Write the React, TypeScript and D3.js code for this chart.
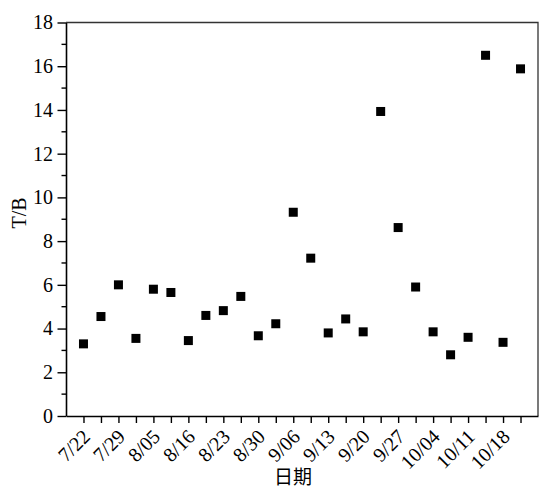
import React, { useRef, useEffect } from 'react';
import * as d3 from 'd3';

// T/B values, one per sampling point (26 points)
const tbValues = [
  3.3, 4.55, 6.0, 3.55, 5.8, 5.65, 3.45, 4.6, 4.82, 5.47, 3.67, 4.22,
  9.32, 7.22, 3.8, 4.44, 3.85, 13.93, 8.62, 5.9, 3.85, 2.8, 3.6, 16.5,
  3.37, 15.88,
];

// date labels, shown on every other tick
const dateLabels = [
  '7/22', '7/29', '8/05', '8/16', '8/23', '8/30', '9/06',
  '9/13', '9/20', '9/27', '10/04', '10/11', '10/18',
];

const yTicks = [0, 2, 4, 6, 8, 10, 12, 14, 16, 18];

const App = () => {
  const svgRef = useRef<SVGSVGElement>(null);

  useEffect(() => {
    const svg = d3.select(svgRef.current);
    svg.selectAll('*').remove();

    const width = 539;
    const height = 491;
    const margin = { top: 22.5, right: 1, bottom: 75, left: 66 };
    const font = '"Liberation Serif", "Times New Roman", serif';

    const x = d3.scaleLinear()
      .domain([-1, tbValues.length])
      .range([margin.left, width - margin.right]);

    const y = d3.scaleLinear()
      .domain([0, 18])
      .range([height - margin.bottom, margin.top]);

    const x0 = margin.left;
    const x1 = width - margin.right;
    const y0 = height - margin.bottom;
    const y1 = margin.top;

    // frame top and right
    svg.append('path')
      .attr('d', `M${x0},${y1}H${x1}V${y0}`)
      .attr('fill', 'none')
      .attr('stroke', '#333')
      .attr('stroke-width', 1.3);

    // x axis
    const xAxis = svg.append('g')
      .attr('transform', `translate(0,${y0})`)
      .call(
        d3.axisBottom(x)
          .tickValues(d3.range(tbValues.length))
          .tickSize(7)
          .tickSizeOuter(0)
          .tickFormat(() => '')
      );
    xAxis.select('.domain').attr('stroke', '#000').attr('stroke-width', 1.6);
    xAxis.selectAll('.tick line').attr('stroke', '#000').attr('stroke-width', 1.4);

    svg.append('g')
      .selectAll('text')
      .data(dateLabels)
      .enter()
      .append('text')
      .attr('transform', (d, i) => `translate(${x(i * 2) + 3},${y0 + 17}) rotate(-45)`)
      .attr('text-anchor', 'end')
      .attr('dy', '0.35em')
      .style('font-family', font)
      .style('font-size', '20px')
      .attr('fill', '#000')
      .text(d => d);

    // y axis
    const yAxis = svg.append('g')
      .attr('transform', `translate(${x0},0)`)
      .call(
        d3.axisLeft(y)
          .tickValues(yTicks)
          .tickSize(8.5)
          .tickSizeOuter(0)
          .tickPadding(4.5)
      );
    yAxis.select('.domain').attr('stroke', '#000').attr('stroke-width', 1.6);
    yAxis.selectAll('.tick line').attr('stroke', '#000').attr('stroke-width', 1.4);
    yAxis.selectAll('.tick text')
      .style('font-family', font)
      .style('font-size', '20px')
      .attr('fill', '#000');

    // minor y ticks
    svg.append('g')
      .selectAll('line')
      .data(d3.range(1, 18, 2))
      .enter()
      .append('line')
      .attr('x1', x0 - 4.5)
      .attr('x2', x0)
      .attr('y1', d => y(d))
      .attr('y2', d => y(d))
      .attr('stroke', '#000')
      .attr('stroke-width', 1.4);

    // points
    const size = 9;
    svg.append('g')
      .selectAll('rect')
      .data(tbValues)
      .enter()
      .append('rect')
      .attr('x', (d, i) => x(i) - size / 2)
      .attr('y', d => y(d) - size / 2)
      .attr('width', size)
      .attr('height', size)
      .attr('fill', '#000');

    // axis titles
    svg.append('text')
      .attr('transform', `translate(26,213) rotate(-90)`)
      .attr('text-anchor', 'middle')
      .style('font-family', font)
      .style('font-size', '20px')
      .attr('fill', '#000')
      .text('T/B');

    svg.append('text')
      .attr('x', 293)
      .attr('y', 484)
      .attr('text-anchor', 'middle')
      .style('font-family', '"Noto Sans CJK SC", sans-serif')
      .style('font-size', '19px')
      .attr('fill', '#000')
      .text('日期');
  }, []);

  return (
    <div style={{ position: 'absolute', left: 0, top: 0 }}>
      <svg ref={svgRef} width={539} height={491} style={{ display: 'block', background: '#fff' }} />
    </div>
  );
};

export default App;
